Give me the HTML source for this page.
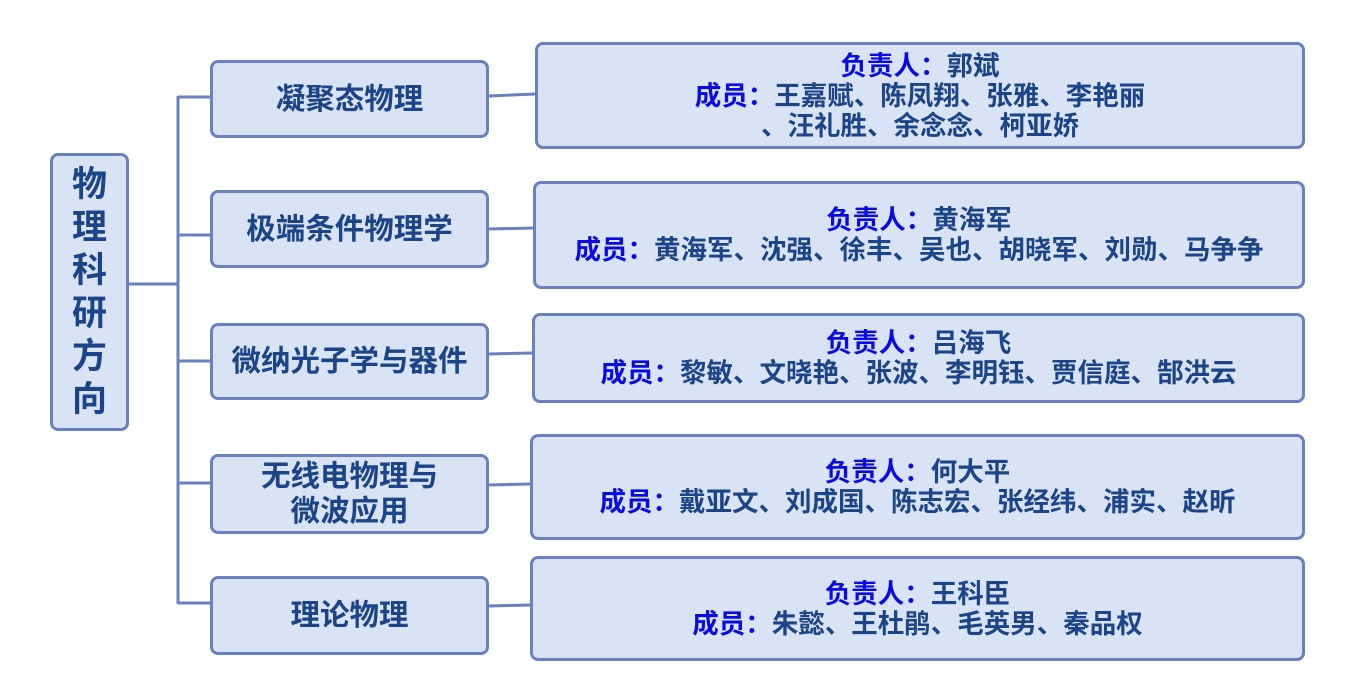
<!DOCTYPE html>
<html><head><meta charset="utf-8"><style>
body{margin:0;width:1350px;height:694px;background:#fff;position:relative;overflow:hidden;font-family:"Liberation Sans","Noto Sans CJK SC",sans-serif;font-weight:bold}
.b{position:absolute;box-sizing:border-box;background:#dae3f3;border:3px solid #6a80bf;border-radius:8px;display:flex;align-items:center;justify-content:center;text-align:center}
.l{font-size:29.5px;color:#1c4489;line-height:35px}
.r{font-size:26.5px;color:#1c4489;line-height:30px}
.r span{color:#0a0ae6}
svg{position:absolute;left:0;top:0}
</style></head><body>
<svg width="1350" height="694"><g stroke="#6a80bf" stroke-width="3" fill="none">
<line x1="178" y1="96" x2="178" y2="604"/>
<line x1="128" y1="284" x2="178" y2="284"/>
<line x1="178" y1="97" x2="211" y2="97"/>
<line x1="178" y1="235" x2="211" y2="235"/>
<line x1="178" y1="361" x2="211" y2="361"/>
<line x1="178" y1="483" x2="211" y2="483"/>
<line x1="178" y1="603" x2="211" y2="603"/>
<line x1="488" y1="96" x2="536" y2="94"/>
<line x1="488" y1="229" x2="534" y2="228"/>
<line x1="488" y1="354" x2="533" y2="353"/>
<line x1="488" y1="485" x2="531" y2="484"/>
<line x1="488" y1="606" x2="531" y2="605"/>
</g></svg>
<div class="b" style="left:50px;top:153px;width:79px;height:278px;font-size:35px;color:#1c4489;line-height:43px">物<br>理<br>科<br>研<br>方<br>向</div>
<div class="b l" style="left:210px;top:60px;width:279px;height:78px">凝聚态物理</div>
<div class="b l" style="left:210px;top:190px;width:279px;height:78px">极端条件物理学</div>
<div class="b l" style="left:210px;top:323px;width:279px;height:77px">微纳光子学与器件</div>
<div class="b l" style="left:210px;top:454px;width:279px;height:80px">无线电物理与<br>微波应用</div>
<div class="b l" style="left:210px;top:576px;width:279px;height:79px">理论物理</div>
<div class="b r" style="left:535px;top:42px;width:770px;height:107px"><div><span>负责人：</span>郭斌<br><span>成员：</span>王嘉赋、陈凤翔、张雅、李艳丽<br>、汪礼胜、余念念、柯亚娇</div></div>
<div class="b r" style="left:533px;top:181px;width:772px;height:108px"><div><span>负责人：</span>黄海军<br><span>成员：</span>黄海军、沈强、徐丰、吴也、胡晓军、刘勋、马争争</div></div>
<div class="b r" style="left:532px;top:313px;width:773px;height:90px"><div><span>负责人：</span>吕海飞<br><span>成员：</span>黎敏、文晓艳、张波、李明钰、贾信庭、郜洪云</div></div>
<div class="b r" style="left:530px;top:434px;width:775px;height:106px"><div><span>负责人：</span>何大平<br><span>成员：</span>戴亚文、刘成国、陈志宏、张经纬、浦实、赵昕</div></div>
<div class="b r" style="left:530px;top:556px;width:775px;height:105px"><div><span>负责人：</span>王科臣<br><span>成员：</span>朱懿、王杜鹃、毛英男、秦品权</div></div>
</body></html>
